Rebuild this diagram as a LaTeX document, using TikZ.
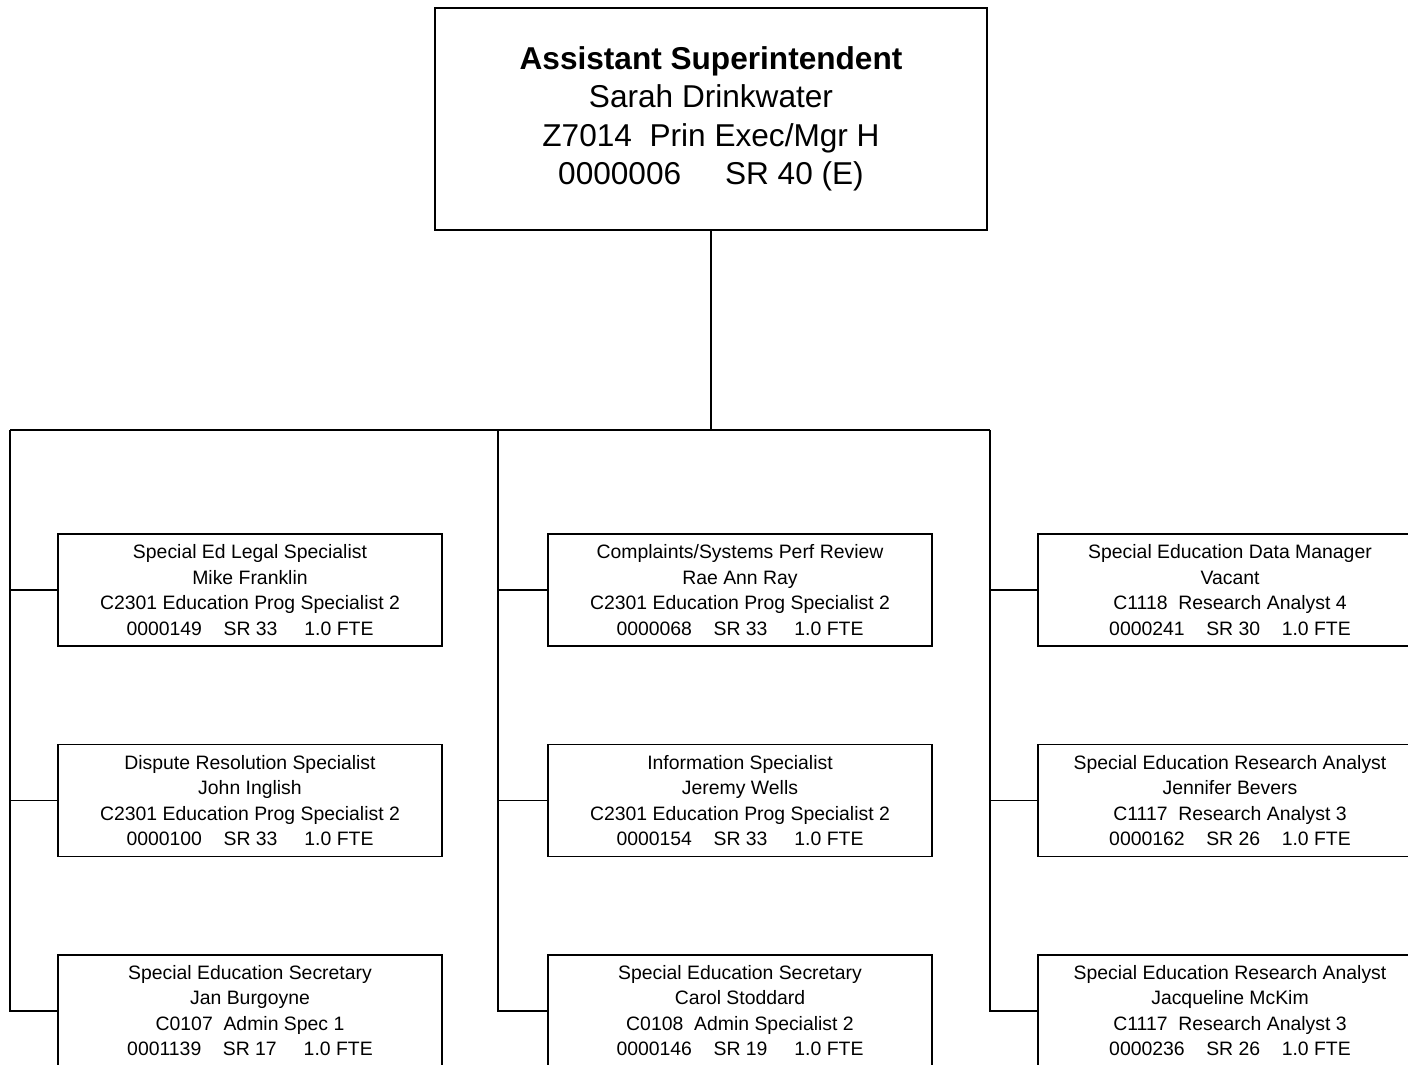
\documentclass[tikz,border=0pt]{standalone}
\usepackage{fontspec}
\setmainfont{Liberation Sans}
\usetikzlibrary{positioning}

\begin{document}
\begin{tikzpicture}[
        x=0.5pt, y=-0.5pt, line width=0.7pt,
        headnode/.style={rectangle, draw=black, minimum width=276pt, minimum height=111pt, align=center, font=\fontsize{15.8pt}{19.2pt}\selectfont},
        staffnode/.style={rectangle, draw=black, minimum width=192pt, minimum height=56pt, inner sep=0pt, align=center, font=\fontsize{9.7pt}{12.75pt}\selectfont},
        node distance=48.5pt and 52.3pt,
]
        \clip (0,0) rectangle (1408,1065);

        \node[headnode] (asst) at (711,119) {\textbf{Assistant Superintendent}\\Sarah Drinkwater\\Z7014\ \ Prin Exec/Mgr H\\0000006\ \ \ \ \ SR 40 (E)};

        \node[staffnode] (legal) at (250,590) {Special Ed Legal Specialist\\Mike Franklin\\C2301 Education Prog Specialist 2\\0000149\ \ \ \ SR 33\ \ \ \ \ 1.0 FTE};
        \node[staffnode] (dispute) [below=of legal] {Dispute Resolution Specialist\\John Inglish\\C2301 Education Prog Specialist 2\\0000100\ \ \ \ SR 33\ \ \ \ \ 1.0 FTE};
        \node[staffnode] (secleft) [below=of dispute] {Special Education Secretary\\Jan Burgoyne\\C0107\ \ Admin Spec 1\\0001139\ \ \ \ SR 17\ \ \ \ \ 1.0 FTE};

        \node[staffnode] (complaints) [right=of legal] {Complaints/Systems Perf Review\\Rae Ann Ray\\C2301 Education Prog Specialist 2\\0000068\ \ \ \ SR 33\ \ \ \ \ 1.0 FTE};
        \node[staffnode] (info) [below=of complaints] {Information Specialist\\Jeremy Wells\\C2301 Education Prog Specialist 2\\0000154\ \ \ \ SR 33\ \ \ \ \ 1.0 FTE};
        \node[staffnode] (secmid) [below=of info] {Special Education Secretary\\Carol Stoddard\\C0108\ \ Admin Specialist 2\\0000146\ \ \ \ SR 19\ \ \ \ \ 1.0 FTE};

        \node[staffnode] (datamgr) [right=of complaints] {Special Education Data Manager\\Vacant\\C1118\ \ Research Analyst 4\\0000241\ \ \ \ SR 30\ \ \ \ 1.0 FTE};
        \node[staffnode] (bevers) [below=of datamgr] {Special Education Research Analyst\\Jennifer Bevers\\C1117\ \ Research Analyst 3\\0000162\ \ \ \ SR 26\ \ \ \ 1.0 FTE};
        \node[staffnode] (mckim) [below=of bevers] {Special Education Research Analyst\\Jacqueline McKim\\C1117\ \ Research Analyst 3\\0000236\ \ \ \ SR 26\ \ \ \ 1.0 FTE};

        \coordinate (colleft) at (10,430);
        \coordinate (colmid) at (498,430);
        \coordinate (colright) at (990,430);

        \draw (asst.south) -- (asst.south |- colmid);
        \draw (colleft) -- (colright);

        \draw (colleft) |- (legal.west);
        \draw (colleft) |- (dispute.west);
        \draw (colleft) |- (secleft.west);
        \draw (colmid) |- (complaints.west);
        \draw (colmid) |- (info.west);
        \draw (colmid) |- (secmid.west);
        \draw (colright) |- (datamgr.west);
        \draw (colright) |- (bevers.west);
        \draw (colright) |- (mckim.west);
\end{tikzpicture}
\end{document}
